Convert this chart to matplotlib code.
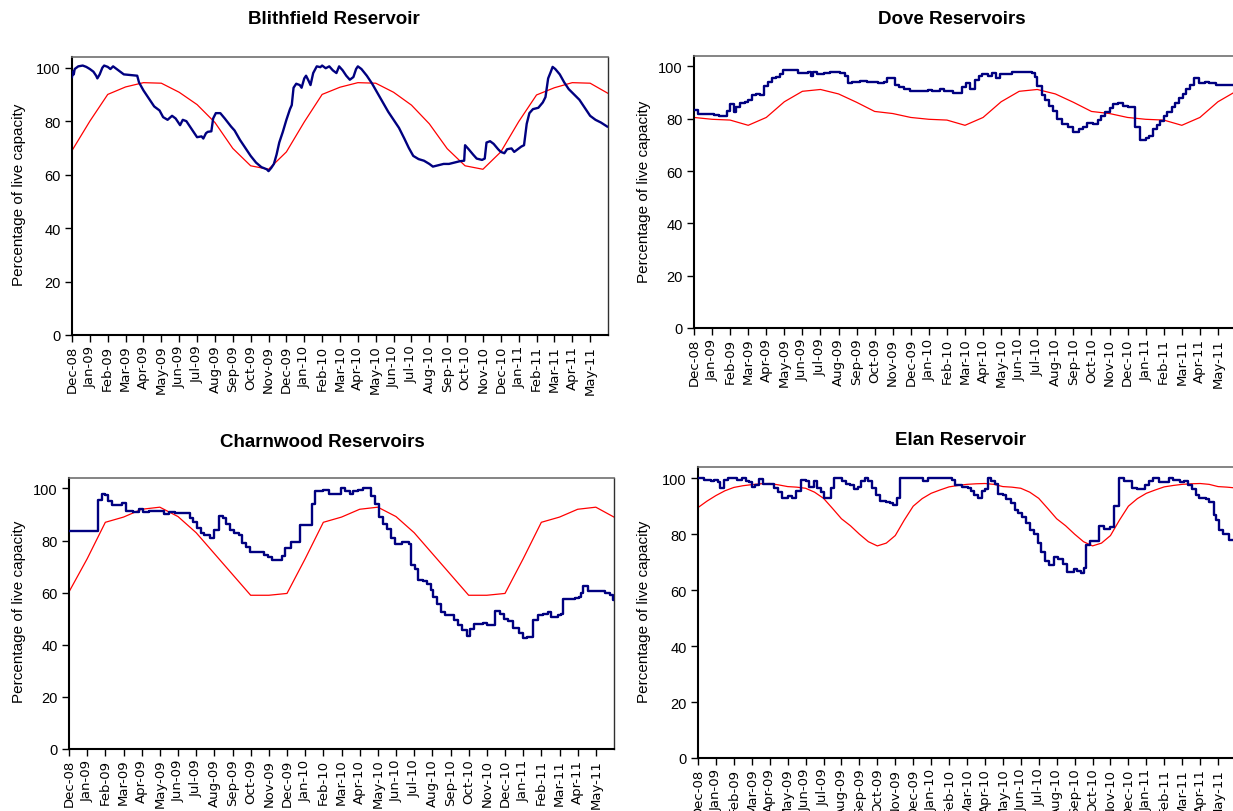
import matplotlib
matplotlib.use("Agg")
import matplotlib.pyplot as plt

plt.rcParams["font.family"] = ["Liberation Sans", "DejaVu Sans"]

W, H = 1233, 812

# Month labels, x positions are months since Dec-08
month_labels = ["Dec-08", "Jan-09", "Feb-09", "Mar-09", "Apr-09", "May-09", "Jun-09",
                "Jul-09", "Aug-09", "Sep-09", "Oct-09", "Nov-09", "Dec-09", "Jan-10",
                "Feb-10", "Mar-10", "Apr-10", "May-10", "Jun-10", "Jul-10", "Aug-10",
                "Sep-10", "Oct-10", "Nov-10", "Dec-10", "Jan-11", "Feb-11", "Mar-11",
                "Apr-11", "May-11"]
month_pos = list(range(len(month_labels)))
avg_t = list(range(31))

# ---------------- Blithfield ----------------
blith_t = [0.0, 0.05, 0.1, 0.15, 0.35, 0.6, 0.8, 1.0, 1.2, 1.35, 1.42, 1.55, 1.7, 1.8, 2.0, 2.15,
           2.3, 2.5, 2.7, 2.9, 3.2, 3.65, 3.75, 4.0, 4.3, 4.6, 4.9, 5.1, 5.35, 5.6, 5.8, 6.05,
           6.2, 6.4, 6.7, 7.0, 7.25, 7.35, 7.5, 7.6, 7.8, 7.9, 8.05, 8.3, 8.55, 8.9, 9.1, 9.4,
           9.65, 10.0, 10.3, 10.6, 10.9, 11.0, 11.15, 11.3, 11.45, 11.6, 11.8, 12.0, 12.2, 12.3,
           12.4, 12.55, 12.75, 12.85, 13.0, 13.1, 13.25, 13.35, 13.5, 13.7, 13.9, 14.0, 14.2,
           14.4, 14.6, 14.8, 14.95, 15.15, 15.35, 15.55, 15.75, 15.9, 16.0, 16.2, 16.5, 16.8,
           17.1, 17.4, 17.7, 18.0, 18.3, 18.6, 18.85, 19.1, 19.4, 19.7, 20.0, 20.2, 20.5, 20.8,
           21.1, 21.4, 21.7, 21.95, 22.0, 22.2, 22.45, 22.65, 22.95, 23.1, 23.2, 23.4, 23.6,
           23.85, 24.0, 24.2, 24.35, 24.6, 24.75, 24.95, 25.15, 25.3, 25.45, 25.6, 25.8, 26.1,
           26.35, 26.5, 26.65, 26.8, 26.9, 27.05, 27.3, 27.55, 27.8, 28.1, 28.4, 28.7, 29.0,
           29.3, 29.6, 29.95]
blith_v = [96.5, 98.5, 97.5, 99.5, 100.5, 100.8, 100.3, 99.5, 98.5, 97.0, 96.0, 97.5, 100.0, 100.8,
           100.3, 99.5, 100.5, 99.5, 98.5, 97.5, 97.3, 97.0, 94.5, 91.5, 88.5, 85.5, 84.0, 81.5,
           80.5, 82.0, 81.0, 78.5, 80.5, 80.0, 77.0, 74.0, 74.3, 73.5, 75.5, 76.0, 76.2, 81.0,
           83.0, 83.0, 81.0, 78.0, 76.5, 73.0, 70.5, 67.0, 64.5, 62.8, 62.0, 61.3, 62.5, 64.0,
           67.5, 72.0, 76.0, 80.5, 84.5, 86.0, 92.5, 94.0, 93.5, 92.5, 96.0, 97.0, 95.0, 93.5,
           98.0, 100.5, 100.2, 100.8, 99.8, 100.5, 99.0, 98.0, 100.5, 99.0, 97.0, 95.5, 96.5,
           99.5, 100.5, 99.5, 97.0, 94.0, 90.5, 87.0, 83.5, 80.5, 77.5, 73.5, 70.0, 67.0, 65.8,
           65.2, 64.0, 63.0, 63.5, 64.0, 64.0, 64.5, 65.0, 65.2, 71.0, 69.5, 67.5, 66.0, 65.5,
           66.0, 72.0, 72.5, 71.5, 69.5, 68.5, 68.0, 69.5, 69.8, 68.5, 69.5, 70.5, 71.0, 79.0,
           83.0, 84.5, 85.0, 87.0, 89.0, 96.0, 98.5, 100.3, 99.5, 97.5, 94.5, 92.0, 90.0, 88.0,
           85.0, 82.0, 80.5, 79.5, 78.0]
blith_avg = [69.0, 80.0, 90.0, 92.8, 94.4, 94.2, 90.8, 86.2, 79.5, 69.8, 63.3, 62.0, 68.5, 79.7,
             90.0, 92.7, 94.4, 94.2, 90.8, 86.0, 79.0, 69.7, 63.3, 62.0, 68.5, 79.8, 89.8, 92.5,
             94.4, 94.2, 90.4]

# ---------------- Dove ----------------
dove_t = [0.0, 0.2, 1.1, 1.4, 1.85, 2.0, 2.2, 2.35, 2.55, 2.8, 3.0, 3.2, 3.45, 3.65, 3.85, 4.1,
          4.3, 4.55, 4.75, 4.95, 5.75, 6.3, 6.45, 6.6, 6.8, 7.2, 7.5, 8.1, 8.35, 8.5, 8.75, 9.2,
          9.6, 10.2, 10.5, 10.7, 11.1, 11.35, 11.6, 11.95, 12.95, 13.2, 13.6, 13.85, 14.35, 14.85,
          15.05, 15.3, 15.55, 15.75, 15.95, 16.25, 16.5, 16.7, 16.95, 17.6, 18.7, 18.9, 19.0,
          19.25, 19.45, 19.65, 19.85, 20.1, 20.35, 20.7, 21.0, 21.3, 21.55, 21.75, 22.1, 22.35,
          22.55, 22.75, 23.0, 23.2, 23.45, 23.75, 24.0, 24.4, 24.7, 25.0, 25.2, 25.4, 25.6, 25.8,
          26.0, 26.2, 26.45, 26.65, 26.85, 27.05, 27.25, 27.45, 27.7, 27.95, 28.3, 28.5, 28.9,
          30.0]
dove_v = [83.5, 82.0, 81.5, 81.2, 83.0, 85.5, 82.5, 84.5, 86.0, 86.5, 87.0, 89.0, 89.5, 89.0,
          92.5, 94.0, 95.5, 96.0, 97.0, 98.5, 97.5, 98.0, 96.5, 98.0, 97.0, 97.5, 98.0, 97.5,
          96.5, 93.5, 94.0, 94.5, 94.0, 93.5, 94.0, 95.5, 93.0, 92.0, 91.5, 90.5, 91.0, 90.5,
          91.5, 90.5, 90.0, 92.0, 93.5, 91.5, 95.0, 96.5, 97.0, 96.5, 97.5, 95.5, 97.0, 98.0,
          97.5, 96.0, 92.5, 89.0, 87.0, 85.0, 83.0, 80.0, 78.0, 77.0, 75.0, 76.0, 77.0, 78.5,
          78.0, 79.5, 81.0, 82.5, 84.0, 85.5, 86.0, 85.0, 84.5, 77.0, 72.0, 72.5, 73.5, 76.0,
          77.5, 79.0, 81.0, 82.5, 84.5, 86.0, 88.0, 89.5, 91.5, 93.0, 95.5, 93.5, 94.0, 93.5,
          93.0, 93.0]
dove_avg = [80.5, 79.8, 79.5, 77.5, 80.5, 86.5, 90.5, 91.2, 89.5, 86.3, 82.8, 82.0, 80.5, 79.8,
            79.5, 77.5, 80.5, 86.5, 90.5, 91.2, 89.5, 86.3, 82.8, 82.0, 80.5, 79.8, 79.5, 77.5,
            80.5, 86.5, 90.5]

# ---------------- Charnwood ----------------
charn_t = [0.0, 1.6, 1.8, 2.0, 2.15, 2.35, 2.9, 3.15, 3.5, 3.85, 4.05, 4.4, 5.25, 5.5, 5.85, 6.65,
           6.85, 7.05, 7.25, 7.45, 7.75, 8.0, 8.25, 8.45, 8.65, 8.85, 9.1, 9.35, 9.55, 9.75, 9.95,
           10.75, 10.95, 11.15, 11.7, 11.9, 12.2, 12.7, 13.35, 13.55, 14.0, 14.3, 14.95, 15.2,
           15.45, 15.65, 15.9, 16.2, 16.65, 16.85, 17.05, 17.3, 17.5, 17.75, 17.95, 18.35, 18.7,
           18.85, 19.05, 19.2, 19.5, 19.7, 19.9, 20.05, 20.25, 20.45, 20.7, 21.2, 21.4, 21.65,
           21.9, 22.05, 22.3, 22.8, 23.0, 23.45, 23.7, 23.95, 24.15, 24.45, 24.75, 25.0, 25.2,
           25.55, 25.8, 26.1, 26.35, 26.55, 26.9, 27.1, 27.2, 27.85, 28.05, 28.2, 28.3, 28.55,
           29.2, 29.5, 29.8, 29.95, 30.0]
charn_v = [83.5, 95.5, 98.0, 97.5, 95.0, 93.5, 94.5, 91.5, 91.0, 92.0, 91.0, 91.5, 90.0, 91.0,
           90.5, 88.5, 87.0, 85.0, 83.0, 82.0, 81.0, 84.0, 89.5, 88.5, 86.5, 84.0, 83.0, 82.0,
           79.0, 77.5, 75.5, 74.5, 73.5, 72.5, 74.0, 77.0, 79.5, 86.0, 94.0, 99.0, 99.5, 98.0,
           100.0, 99.0, 98.0, 99.0, 99.5, 100.0, 97.0, 94.0, 89.0, 86.5, 84.5, 81.0, 78.5, 79.5,
           78.5, 70.5, 69.0, 65.0, 64.5, 63.5, 61.0, 58.5, 55.5, 52.5, 51.5, 49.5, 47.5, 45.5,
           43.5, 46.0, 48.0, 48.5, 47.5, 53.0, 52.0, 50.0, 49.0, 46.5, 44.5, 42.5, 43.0, 49.5,
           51.5, 52.0, 52.5, 50.5, 51.5, 52.0, 57.5, 58.0, 58.5, 60.0, 62.5, 60.5, 60.5, 60.0,
           59.0, 57.0, 57.0]
charn_avg = [60.3, 73.0, 87.0, 89.0, 92.0, 92.8, 89.2, 83.0, 75.0, 67.0, 59.0, 59.0, 59.7, 73.0,
             87.0, 89.0, 92.0, 92.8, 89.2, 83.0, 75.0, 67.0, 59.0, 59.0, 59.7, 73.0, 87.0, 89.0,
             92.0, 92.8, 89.0]

# ---------------- Elan ----------------
elan_t = [0.0, 0.35, 0.75, 0.9, 1.1, 1.25, 1.45, 1.65, 2.2, 2.45, 2.65, 2.85, 3.0, 3.2, 3.4, 3.6,
          4.25, 4.45, 4.7, 5.0, 5.25, 5.45, 5.75, 6.0, 6.2, 6.45, 6.65, 6.85, 7.05, 7.4, 7.6,
          8.05, 8.25, 8.5, 8.7, 8.9, 9.1, 9.3, 9.5, 9.7, 9.9, 10.15, 10.5, 10.7, 10.9, 11.1,
          11.25, 12.55, 12.85, 14.15, 14.35, 14.7, 15.05, 15.25, 15.4, 15.6, 15.85, 16.0, 16.15,
          16.35, 16.55, 16.75, 17.0, 17.2, 17.45, 17.65, 17.85, 18.05, 18.3, 18.5, 18.75, 18.95,
          19.15, 19.35, 19.55, 19.85, 20.1, 20.35, 20.6, 20.95, 21.15, 21.35, 21.5, 21.65, 21.85,
          22.35, 22.65, 23.0, 23.2, 23.45, 23.75, 24.2, 24.5, 24.95, 25.15, 25.35, 25.7, 26.25,
          26.5, 26.9, 27.1, 27.3, 27.55, 27.75, 27.95, 28.3, 28.5, 28.75, 28.9, 29.05, 29.3,
          29.6, 30.0]
elan_v = [100.0, 99.5, 99.0, 99.5, 98.5, 96.5, 99.5, 100.0, 99.5, 100.0, 99.0, 98.5, 97.0, 97.5,
          99.8, 98.0, 96.5, 95.0, 93.0, 93.5, 93.0, 95.5, 99.5, 99.0, 97.0, 99.0, 96.5, 95.0,
          93.0, 96.5, 100.0, 99.0, 98.0, 97.5, 96.0, 97.0, 99.0, 100.0, 99.0, 96.5, 94.0, 92.0,
          91.5, 91.0, 90.5, 93.0, 100.0, 99.0, 100.0, 99.5, 97.5, 97.0, 96.5, 95.5, 94.0, 93.0,
          95.5, 96.0, 100.0, 99.0, 98.0, 94.5, 94.0, 92.5, 91.0, 88.5, 87.5, 86.0, 84.0, 81.5,
          80.0, 77.0, 73.5, 70.5, 69.0, 72.0, 71.0, 69.5, 66.5, 67.5, 67.0, 66.0, 68.0, 76.0,
          77.5, 83.0, 82.0, 82.5, 90.0, 100.0, 99.0, 96.5, 96.0, 97.5, 99.0, 100.0, 98.5, 100.0,
          99.5, 98.5, 99.0, 97.5, 96.0, 94.0, 93.0, 92.5, 91.5, 87.0, 85.0, 81.5, 80.0, 78.0,
          78.0]
elan_avg_t = [i * 0.5 for i in range(61)]
elan_avg = [89.5, 91.8, 93.8, 95.5, 96.7, 97.3, 97.7, 98.0, 98.1, 97.6, 97.0, 96.8, 96.4, 95.0,
            92.8, 89.2, 85.5, 83.0, 80.0, 77.3, 75.8, 76.8, 79.5, 85.0, 90.0, 92.7, 94.6, 95.8,
            96.9, 97.4, 97.8, 98.0, 98.1, 97.8, 97.0, 96.8, 96.4, 95.0, 92.8, 89.2, 85.5, 83.0,
            80.0, 77.3, 75.8, 76.8, 79.5, 85.0, 90.0, 92.7, 94.6, 95.8, 96.9, 97.4, 97.8, 98.0,
            98.1, 97.8, 97.0, 96.8, 96.5]

fig = plt.figure(figsize=(W / 100, H / 100), dpi=100)


def px_rect(left, top, right, bottom):
    return [left / W, 1 - bottom / H, (right - left) / W, (bottom - top) / H]


def panel(rect, title, title_xy, ylabel_xy, t_obs, v_obs, stepped, t_avg, v_avg):
    ax = fig.add_axes(px_rect(*rect))
    ax.plot(t_avg, v_avg, color="#FF0000", lw=0.9, zorder=2)
    ax.plot(t_obs, v_obs, color="#000080", lw=1.7, zorder=3,
            drawstyle="steps-post" if stepped else "default")
    ax.set_xlim(0, 30)
    ax.set_ylim(0, 104)
    ax.set_yticks([0, 20, 40, 60, 80, 100])
    ax.set_xticks(month_pos)
    ax.set_xticklabels(month_labels, rotation=90, fontsize=9.5, family="DejaVu Sans")
    ax.tick_params(axis="y", labelsize=10.5, length=5, width=1, direction="out", pad=3)
    ax.tick_params(axis="x", length=5, width=1, direction="out", pad=2)
    for s in ("left", "bottom"):
        ax.spines[s].set_color("black")
        ax.spines[s].set_linewidth(1.5)
    ax.spines["top"].set_color("#707070")
    ax.spines["top"].set_linewidth(1.2)
    ax.spines["right"].set_color("#303030")
    ax.spines["right"].set_linewidth(1.0)
    fig.text(title_xy[0] / W, 1 - title_xy[1] / H, title, ha="center", va="center",
             fontsize=13.5, fontweight="bold")
    fig.text(ylabel_xy[0] / W, 1 - ylabel_xy[1] / H, "Percentage of live capacity",
             rotation=90, ha="center", va="center", fontsize=11)
    return ax


panel((72, 58, 608, 336), "Blithfield Reservoir", (334, 20), (19, 195),
      blith_t, blith_v, False, avg_t, blith_avg)
panel((694, 57, 1236, 329), "Dove Reservoirs", (952, 20), (644, 192),
      dove_t, dove_v, True, avg_t, dove_avg)
panel((69, 479, 614, 750), "Charnwood Reservoirs", (322, 443), (19, 612),
      charn_t, charn_v, True, avg_t, charn_avg)
panel((698, 468, 1236, 759), "Elan Reservoir", (960, 441), (644, 612),
      elan_t, elan_v, True, elan_avg_t, elan_avg)

fig.savefig("out.png", dpi=100)
